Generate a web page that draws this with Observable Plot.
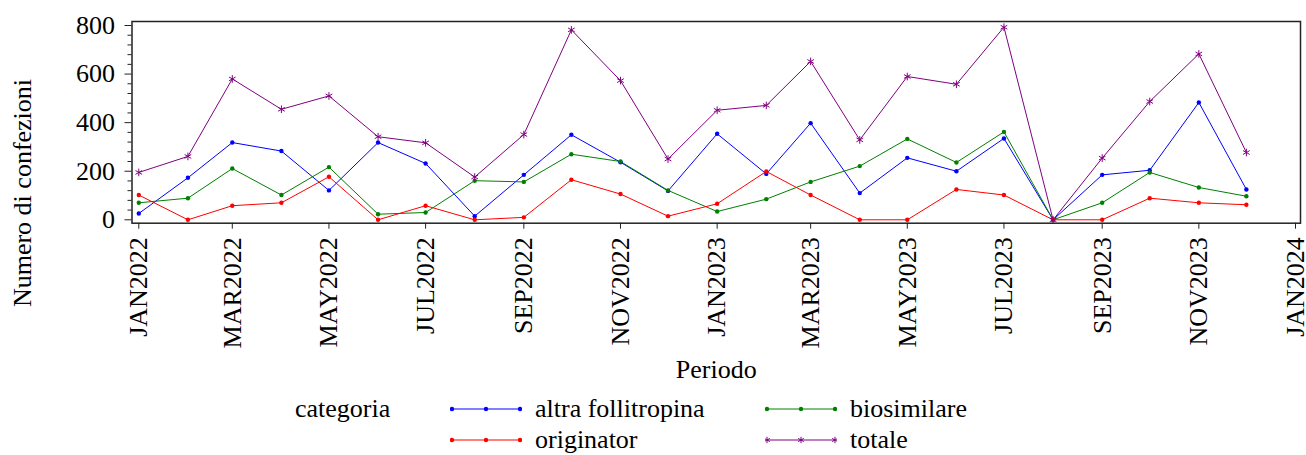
<!DOCTYPE html>
<html><head><meta charset="utf-8">
<script src="https://cdn.jsdelivr.net/npm/d3@7"></script>
<script src="https://cdn.jsdelivr.net/npm/@observablehq/plot@0.6"></script>
<style>
body{margin:0;background:#fff;font-family:"Liberation Serif","Times New Roman",serif;}
#wrap{position:relative;width:1306px;}
#ylabel{position:absolute;left:23px;top:193px;transform:translate(-50%,-50%) rotate(-90deg);font-size:26px;white-space:nowrap;color:#000;line-height:30px;}
#legend{position:relative;width:1306px;height:63px;font-size:26px;color:#000;}
#legend .item{position:absolute;white-space:nowrap;line-height:30px;}
#legend svg{position:absolute;}
</style></head><body>
<div id="wrap"><div id="chart"></div><div id="ylabel"></div></div>
<div id="legend"></div>
<script>
const months = ["2022-01","2022-02","2022-03","2022-04","2022-05","2022-06","2022-07","2022-08","2022-09","2022-10","2022-11","2022-12",
                "2023-01","2023-02","2023-03","2023-04","2023-05","2023-06","2023-07","2023-08","2023-09","2023-10","2023-11","2023-12"];
const altraFollitropina = [26,173,318,283,121,318,232,15,185,350,237,119,354,189,398,110,255,200,335,0,185,204,483,125];
const biosimilare = [70,89,211,102,217,23,30,161,156,270,240,121,34,85,156,221,333,236,362,0,70,195,133,97];
const originator = [102,0,58,70,177,0,58,0,10,165,106,15,66,199,102,0,0,125,102,0,0,89,70,62];
const totale = [195,261,580,455,510,342,317,176,351,782,573,250,451,471,652,329,590,558,793,0,254,487,683,277];
const categories = ["altra follitropina","biosimilare","originator","totale"];
const colors = ["#0000FF","#008000","#FF0000","#800080"];
const yTicks = [0,200,400,600,800];
const yMinorTicks = [40,80,120,160,240,280,320,360,440,480,520,560,640,680,720,760];
const xTickMonths = ["2022-01","2022-03","2022-05","2022-07","2022-09","2022-11","2023-01","2023-03","2023-05","2023-07","2023-09","2023-11","2024-01"];
const xDomain = ["2022-01","2024-01"];
const xLabel = "Periodo";
const yLabel = "Numero di confezioni";
const legendTitle = "categoria";

const parse = s => new Date(s + "-01T00:00:00Z");
const seriesValues = [altraFollitropina, biosimilare, originator, totale];
const rows = [];
categories.forEach((c, i) => months.forEach((m, j) => rows.push({cat: c, date: parse(m), value: seriesValues[i][j]})));
const fmt = d3.utcFormat("%b%Y");
const axisColor = "#222";

const chart = Plot.plot({
  width: 1306, height: 392,
  marginLeft: 131.5, marginRight: 6, marginTop: 21, marginBottom: 169.3,
  style: {fontFamily: "'Liberation Serif','Times New Roman',serif", fontSize: "26px", color: "#000", background: "#fff"},
  x: {type: "utc", domain: xDomain.map(parse), range: [138.3, 1295]},
  y: {domain: [0, 800], range: [219.3, 25]},
  color: {domain: categories, range: colors},
  marks: [
    Plot.axisY({ticks: yMinorTicks, tickSize: 4, tickFormat: () => "", label: null, stroke: axisColor}),
    Plot.axisY({ticks: yTicks, tickSize: 7, tickPadding: 10, label: null, stroke: axisColor, fill: "#000"}),
    Plot.axisX({ticks: xTickMonths.map(parse), tickSize: 6, tickPadding: 8, tickRotate: -90,
      tickFormat: d => fmt(d).toUpperCase(), label: null, stroke: axisColor, fill: "#000"}),
    Plot.line(rows, {x: "date", y: "value", stroke: "cat", strokeWidth: 1}),
    Plot.dot(rows.filter(d => d.cat !== "totale"), {x: "date", y: "value", fill: "cat", r: 2.2}),
    Plot.dot(rows.filter(d => d.cat === "totale"), {x: "date", y: "value", stroke: "cat", symbol: "asterisk", r: 3.6, strokeWidth: 1}),
    Plot.frame({stroke: axisColor, strokeWidth: 1.5}),
    Plot.text([xLabel], {frameAnchor: "bottom", dy: 155, fill: "#000"})
  ]
});
document.getElementById("chart").appendChild(chart);
document.getElementById("ylabel").textContent = yLabel;

// Legend
const legend = document.getElementById("legend");
const layout = {"altra follitropina": [0, 0], "biosimilare": [0, 1], "originator": [1, 0], "totale": [1, 1]};
const colX = [452, 767], rowY = [17, 48];
const title = document.createElement("div");
title.className = "item"; title.textContent = legendTitle;
title.style.left = "295px"; title.style.top = (rowY[0] - 15) + "px";
legend.appendChild(title);
categories.forEach((c, i) => {
  const [r, col] = layout[c];
  const color = colors[i];
  const ns = "http://www.w3.org/2000/svg";
  const svg = document.createElementNS(ns, "svg");
  svg.setAttribute("width", 72); svg.setAttribute("height", 14);
  svg.style.left = (colX[col] - 2) + "px"; svg.style.top = (rowY[r] - 7) + "px";
  const line = document.createElementNS(ns, "line");
  line.setAttribute("x1", 2); line.setAttribute("x2", 70); line.setAttribute("y1", 7); line.setAttribute("y2", 7);
  line.setAttribute("stroke", color); line.setAttribute("stroke-width", 1);
  svg.appendChild(line);
  [2, 36, 70].forEach(px => {
    if (c === "totale") {
      const g = document.createElementNS(ns, "path");
      const s = 3.2;
      g.setAttribute("d", `M${px},${7-s}V${7+s}M${px-s*0.87},${7-s/2}L${px+s*0.87},${7+s/2}M${px-s*0.87},${7+s/2}L${px+s*0.87},${7-s/2}`);
      g.setAttribute("stroke", color); g.setAttribute("stroke-width", 1);
      svg.appendChild(g);
    } else {
      const d = document.createElementNS(ns, "circle");
      d.setAttribute("cx", px); d.setAttribute("cy", 7); d.setAttribute("r", 2.2); d.setAttribute("fill", color);
      svg.appendChild(d);
    }
  });
  legend.appendChild(svg);
  const t = document.createElement("div");
  t.className = "item"; t.textContent = c;
  t.style.left = (colX[col] + 83) + "px"; t.style.top = (rowY[r] - 15) + "px";
  legend.appendChild(t);
});
</script>
</body></html>
